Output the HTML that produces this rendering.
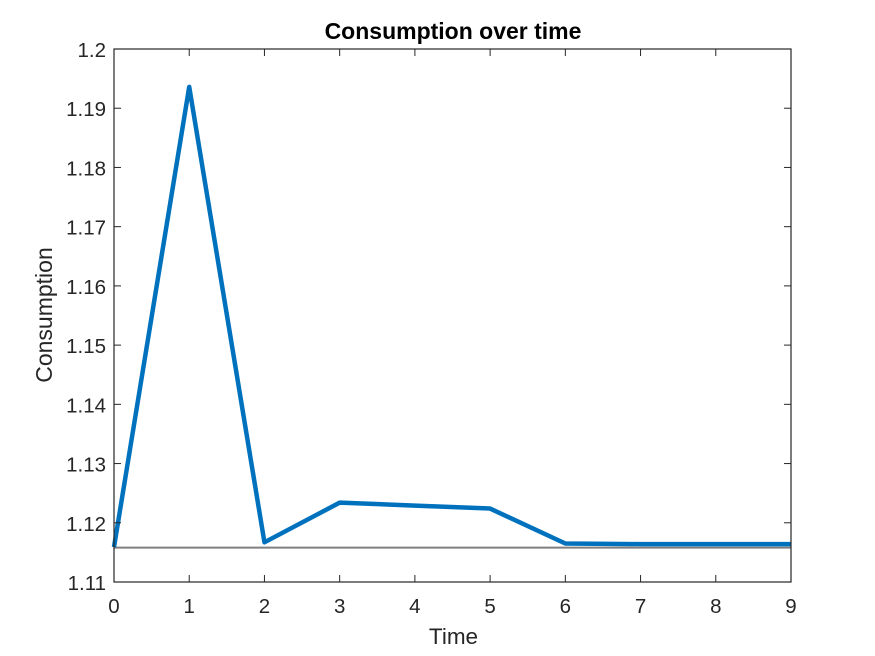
<!DOCTYPE html>
<html lang="en">
<head>
<meta charset="utf-8">
<title>Consumption over time</title>
<style>
html,body{margin:0;padding:0;background:#fff;}
svg{display:block;}
text{font-family:"Liberation Sans",Arial,sans-serif;fill:#262626;}
</style>
</head>
<body>
<svg id="chart" width="875" height="656" viewBox="0 0 875 656" xmlns="http://www.w3.org/2000/svg">
<rect x="114" y="49" width="677" height="533" fill="#fff"/>
<g id="marks"></g>
<g id="axes"></g>
<text x="453" y="39" text-anchor="middle" font-size="23" font-weight="bold" style="fill:#000">Consumption over time</text>
<text x="453.5" y="644" text-anchor="middle" font-size="22.5">Time</text>
<text transform="translate(52 315) rotate(-90)" text-anchor="middle" font-size="23">Consumption</text>
</svg>
<script>
const times = [0, 1, 2, 3, 4, 5, 6, 7, 8, 9];
const consumption = [1.1159, 1.1936, 1.1167, 1.1234, 1.1229, 1.1224, 1.1165, 1.1164, 1.1164, 1.1164];
const steadyState = [1.1158, 1.1158, 1.1158, 1.1158, 1.1158, 1.1158, 1.1158, 1.1158, 1.1158, 1.1158];
const xTicks = [0, 1, 2, 3, 4, 5, 6, 7, 8, 9];
const yTicks = [1.11, 1.12, 1.13, 1.14, 1.15, 1.16, 1.17, 1.18, 1.19, 1.2];

const NS = 'http://www.w3.org/2000/svg';
const plot = { left: 114, right: 791, top: 49, bottom: 582 };
const xDomain = [0, 9];
const yDomain = [1.11, 1.2];
function xScale(v) {
  return plot.left + (v - xDomain[0]) / (xDomain[1] - xDomain[0]) * (plot.right - plot.left);
}
function yScale(v) {
  return plot.bottom - (v - yDomain[0]) / (yDomain[1] - yDomain[0]) * (plot.bottom - plot.top);
}
function make(tag, attrs, parent) {
  const el = document.createElementNS(NS, tag);
  for (const k in attrs) el.setAttribute(k, attrs[k]);
  parent.appendChild(el);
  return el;
}
function linePoints(values) {
  return values.map((v, i) => xScale(times[i]).toFixed(2) + ',' + yScale(v).toFixed(2)).join(' ');
}

const marks = document.getElementById('marks');
const axes = document.getElementById('axes');

const steady = make('polyline', { points: linePoints(steadyState), fill: 'none', stroke: '#7f7f7f', 'stroke-width': 2 }, marks);



const series = make('polyline', { points: linePoints(consumption), fill: 'none', stroke: '#0072bd', 'stroke-width': 4.5, 'stroke-linejoin': 'round' }, marks);



const box = make('rect', { x: plot.left, y: plot.top, width: plot.right - plot.left, height: plot.bottom - plot.top, fill: 'none', stroke: '#262626', 'stroke-width': 1.2 }, axes);



xTicks.forEach(function (t) {
  const x = xScale(t);
  const tickBottom = make('line', { x1: x, x2: x, y1: plot.bottom, y2: plot.bottom - 7, stroke: '#262626', 'stroke-width': 1 }, axes);
  
  
  const tickTop = make('line', { x1: x, x2: x, y1: plot.top, y2: plot.top + 7, stroke: '#262626', 'stroke-width': 1 }, axes);
  
  
  const label = make('text', { x: x, y: 613, 'text-anchor': 'middle', 'font-size': 20.5 }, axes);
  
  
  label.textContent = String(t);
});

yTicks.forEach(function (t) {
  const y = yScale(t);
  const tickLeft = make('line', { x1: plot.left, x2: plot.left + 7, y1: y, y2: y, stroke: '#262626', 'stroke-width': 1 }, axes);
  
  
  const tickRight = make('line', { x1: plot.right, x2: plot.right - 7, y1: y, y2: y, stroke: '#262626', 'stroke-width': 1 }, axes);
  
  
  const label = make('text', { x: 106, y: y + 8, 'text-anchor': 'end', 'font-size': 20.5 }, axes);
  
  
  label.textContent = String(t);
});
</script>
</body>
</html>
